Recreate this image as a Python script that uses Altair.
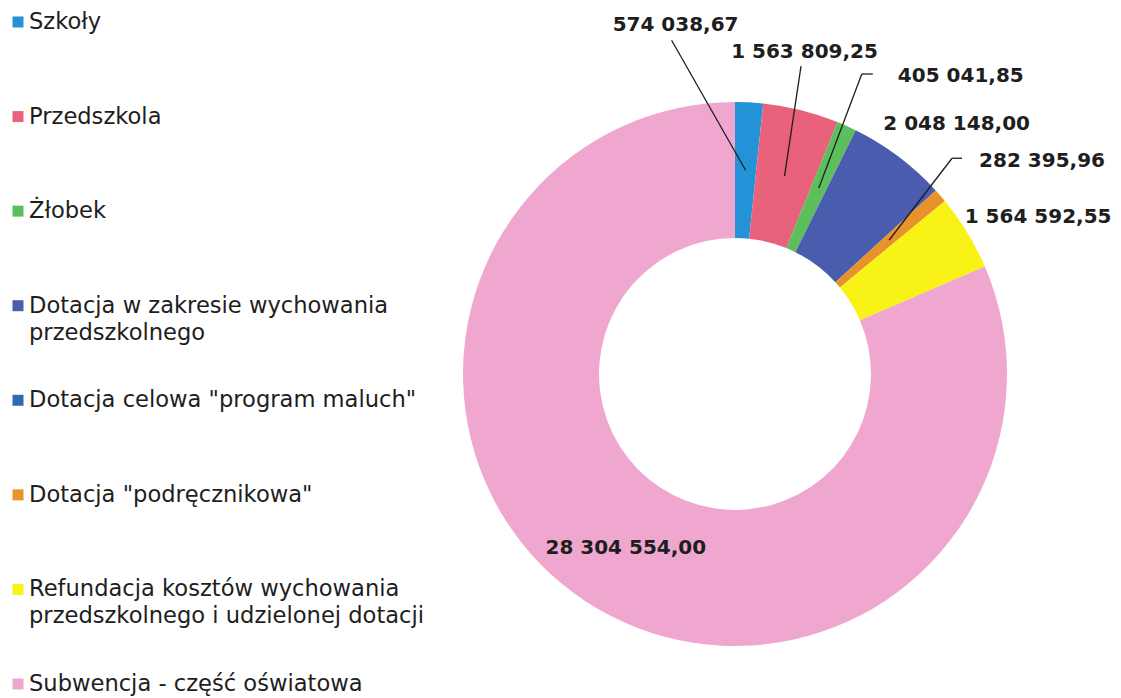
import altair as alt
import pandas as pd

# ---------------- data ----------------
categories = [
    "Szkoły",
    "Przedszkola",
    "Żłobek",
    "Dotacja w zakresie wychowania przedszkolnego",
    'Dotacja celowa "program maluch"',
    'Dotacja "podręcznikowa"',
    "Refundacja kosztów wychowania przedszkolnego i udzielonej dotacji",
    "Subwencja - część oświatowa",
]
legend_line1 = [
    "Szkoły",
    "Przedszkola",
    "Żłobek",
    "Dotacja w zakresie wychowania",
    'Dotacja celowa "program maluch"',
    'Dotacja "podręcznikowa"',
    "Refundacja kosztów wychowania",
    "Subwencja - część oświatowa",
]
legend_line2 = [
    "",
    "",
    "",
    "przedszkolnego",
    "",
    "",
    "przedszkolnego i udzielonej dotacji",
    "",
]
values = [574038.67, 1563809.25, 405041.85, 2048148.00, 0.0, 282395.96, 1564592.55, 28304554.00]

# ---------------- style ----------------
colors = ["#2492D6", "#E8627C", "#5DBE5E", "#4A5CAD", "#2F6BAF", "#E8922C", "#F9F216", "#F0A7CF"]
# label nudges (relative to the slice's mid-ring anchor), as placed by hand in the original
label_dx = [-70, 20, 142, 99, 0, 153, 129, 3]
label_dy = [-145, -124, -112, -87, 0, -79, -51, 4]
# leader line bend / end points relative to the label centre (None = no leader)
lead_bend = [(-4, 15), (-3.5, 14), (-99, -2), None, None, (-90, -3), None, None]
lead_end = [(-4, 15), (-3.5, 14), (-88, -2), None, None, (-80, -3), None, None]

FONT = "DejaVu Sans"
TXT = "#1e1e1e"
H = 682
WL = 440
WD = 665
CX, CY = 287, 366
R_OUT, R_IN = 272, 136
R_MID = (R_OUT + R_IN) / 2


def fmt(v):
    s = f"{v:,.2f}"
    return s.replace(",", " ").replace(".", ",")


df = pd.DataFrame({
    "cat": categories,
    "value": values,
    "idx": list(range(len(categories))),
    "label": [fmt(v) for v in values],
    "ldx": label_dx,
    "ldy": label_dy,
    "bdx": [b[0] if b else None for b in lead_bend],
    "bdy": [b[1] if b else None for b in lead_bend],
    "edx": [e[0] if e else None for e in lead_end],
    "edy": [e[1] if e else None for e in lead_end],
})

legend_df = pd.DataFrame({"cat": categories, "l1": legend_line1, "l2": legend_line2})

color_scale = alt.Scale(domain=categories, range=colors)
XS = alt.Scale(domain=[0, WD], nice=False, zero=False)
YS = alt.Scale(domain=[0, H], nice=False, zero=False, reverse=True)

# ---------------- donut panel ----------------
base = alt.Chart(df)

arc = base.mark_arc(innerRadius=R_IN, outerRadius=R_OUT).encode(
    theta=alt.Theta("value:Q", stack=True),
    color=alt.Color("cat:N", scale=color_scale, legend=None),
    order=alt.Order("idx:Q", sort="ascending"),
    x=alt.value(CX),
    y=alt.value(CY),
)

geo = (
    base.transform_joinaggregate(total="sum(value)")
    .transform_window(cum="sum(value)", sort=[alt.SortField("idx", order="ascending")], frame=[None, 0])
    .transform_calculate(mid="(datum.cum - datum.value / 2) / datum.total * 2 * PI")
    .transform_calculate(
        ax=f"{CX} + {R_MID} * sin(datum.mid)",
        ay=f"{CY} - {R_MID} * cos(datum.mid)",
    )
    .transform_calculate(lx="datum.ax + datum.ldx", ly="datum.ay + datum.ldy")
)

leader1 = (
    geo.transform_filter("isValid(datum.bdx)")
    .transform_calculate(bx="datum.lx + datum.bdx", by="datum.ly + datum.bdy")
    .mark_rule(color=TXT, strokeWidth=1.3)
    .encode(
        x=alt.X("ax:Q", scale=XS, axis=None),
        y=alt.Y("ay:Q", scale=YS, axis=None),
        x2="bx:Q",
        y2="by:Q",
    )
)

leader2 = (
    geo.transform_filter("isValid(datum.edx) && datum.edx != datum.bdx")
    .transform_calculate(
        bx="datum.lx + datum.bdx", by="datum.ly + datum.bdy",
        ex="datum.lx + datum.edx", ey="datum.ly + datum.edy",
    )
    .mark_rule(color=TXT, strokeWidth=1.3)
    .encode(
        x=alt.X("bx:Q", scale=XS, axis=None),
        y=alt.Y("by:Q", scale=YS, axis=None),
        x2="ex:Q",
        y2="ey:Q",
    )
)

labels = (
    geo.transform_filter("datum.value > 0")
    .mark_text(font=FONT, fontSize=20, fontWeight="bold", color=TXT, align="center", baseline="middle")
    .encode(
        x=alt.X("lx:Q", scale=XS, axis=None),
        y=alt.Y("ly:Q", scale=YS, axis=None),
        text="label:N",
    )
)

donut = alt.layer(arc, leader1, leader2, labels).properties(width=WD, height=H)

# ---------------- legend panel ----------------
lbase = alt.Chart(legend_df)
ly_enc = alt.Y("cat:N", sort=categories,
               scale=alt.Scale(domain=categories, range=[14, 676], padding=0), axis=None)

sym = lbase.mark_square(size=121, opacity=1).encode(
    x=alt.value(10),
    y=ly_enc,
    color=alt.Color("cat:N", scale=color_scale, legend=None),
)
t1 = lbase.mark_text(font=FONT, fontSize=22.6, color=TXT, align="left", baseline="middle").encode(
    x=alt.value(21), y=ly_enc, text="l1:N"
)
t2 = lbase.transform_filter("datum.l2 != ''").mark_text(
    font=FONT, fontSize=22.6, color=TXT, align="left", baseline="middle", dy=27
).encode(x=alt.value(21), y=ly_enc, text="l2:N")

legend_panel = alt.layer(sym, t1, t2).properties(width=WL, height=H)

chart = (
    alt.hconcat(legend_panel, donut, spacing=0)
    .properties(padding=0, background="white")
    .configure_view(stroke=None)
)

chart.save("out.html", embed_options={"renderer": "svg", "actions": False})
